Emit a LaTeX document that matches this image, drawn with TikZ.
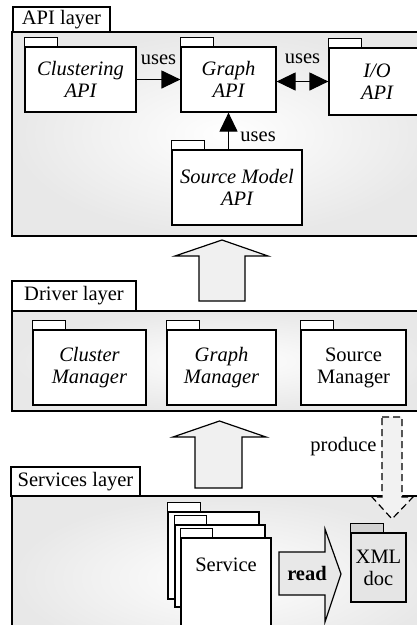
\documentclass[tikz,border=0pt]{standalone}
\usepackage{fontspec}
\setmainfont{Liberation Serif}
\usetikzlibrary{positioning,arrows.meta}

\newcommand{\lbl}{\fontsize{20.5}{22}\selectfont}

\tikzset{
  layer/.style={line width=2pt, shading=radial, inner color=white, outer color=gray!18},
  layertab/.style={draw, line width=2pt, fill=white, inner sep=0pt},
  pkg/.style={draw, line width=1.2pt, fill=white, inner sep=0pt, align=center, font=\lbl\itshape},
  tab/.style={draw, line width=1.2pt, fill=white},
  uses/.style={line width=1.2pt, -{Triangle[length=19pt,width=18pt]}},
  usesboth/.style={line width=1.2pt, {Triangle[length=19pt,width=18pt]}-{Triangle[length=19pt,width=18pt]}},
  bigarrow/.style={draw, line width=1.2pt, fill=gray!12},
}

\begin{document}
\begin{tikzpicture}[x=1pt, y=-1pt, font=\lbl]
\clip (0,0) rectangle (417,625);

% API layer
\draw[layer] (12,32) rectangle (440,236);
\node[layertab, minimum width=97, minimum height=25] (apitab) at (61.5,19.5) {API layer};

\node[pkg, minimum width=111, minimum height=65] (clu) at (80.5,79.5) {Clustering\\API};
\node[pkg, minimum width=95, minimum height=65] (gra) at (228.5,79.5) {Graph\\API};
\node[pkg, minimum width=96, minimum height=67] (io) at (377,81.5) {I/O\\API};
\node[pkg, minimum width=130, minimum height=75] (src) at (237,187.5) {Source Model\\API};

\draw[uses] (clu) -- node[above=11pt]{uses} (gra);
\draw[usesboth] (gra.east |- io.west) -- node[above=14pt]{uses} (io.west);
\draw[uses] (gra.south |- src.north) -- node[right=8pt, pos=0.33]{uses} (gra.south);

% up arrow driver -> api
\draw[bigarrow] (199,301) -- (199,256) -- (175,256) -- (222,240) -- (268,256) -- (245,256) -- (245,301) -- cycle;

% Driver layer
\draw[layer] (12,311) rectangle (440,411);
\node[layertab, minimum width=124, minimum height=30] (drvtab) at (74,296) {Driver layer};

\node[pkg, minimum width=113, minimum height=75] (cman) at (89.5,367.5) {Cluster\\Manager};
\node[pkg, minimum width=109, minimum height=75] (gman) at (221.5,367.5) {Graph\\Manager};
\node[pkg, font=\lbl, minimum width=105, minimum height=75] (sman) at (353.5,367.5) {Source\\Manager};

% tabs of the packages
\foreach \n in {clu,gra,io,src,cman,gman,sman}
  \draw[tab] (\n.north west) rectangle ++(33,-9);

% up arrow services -> driver
\draw[bigarrow] (195,488) -- (195,437) -- (173,437) -- (219.5,421) -- (266,437) -- (242,437) -- (242,488) -- cycle;

% Services layer
\draw[layer] (12,496) rectangle (440,660);
\node[layertab, minimum width=129, minimum height=29] (svctab) at (75.5,481.5) {Services layer};

% produce arrow
\draw[bigarrow, dash pattern=on 7pt off 4pt, fill=gray!10] (382,417) -- (402,417) -- (402,497) -- (413,497) -- (392,519) -- (372,497) -- (382,497) -- cycle;
\node[anchor=east] (produce) at (380,447) {produce};

% stack of services
\node[pkg, minimum width=91, minimum height=87] (svc1) at (213.5,555.5) {};
\draw[tab] (svc1.north west) rectangle ++(33,-9);
\node[pkg, minimum width=90, minimum height=82] (svc2) at (220,566) {};
\draw[tab] (svc2.north west) rectangle ++(32,-9);
\node[pkg, minimum width=90, minimum height=100] (svc3) at (226,588) {};
\draw[tab] (svc3.north west) rectangle ++(32,-9);
\node[below=16.5pt of svc3.north] (svctxt) {Service};

% read arrow
\draw[bigarrow, fill=gray!18] (279,552) -- (325,552) -- (325,529) -- (341,574) -- (325,622) -- (325,595) -- (279,595) -- cycle;
\node[font=\lbl\bfseries] (read) at (307,573) {read};

% XML document
\node[pkg, font=\lbl, fill=gray!20, minimum width=55, minimum height=69] (xml) at (378.5,567.5) {XML\\doc};
\draw[tab, fill=gray!35] (xml.north west) rectangle ++(33,-9);

\end{tikzpicture}
\end{document}
